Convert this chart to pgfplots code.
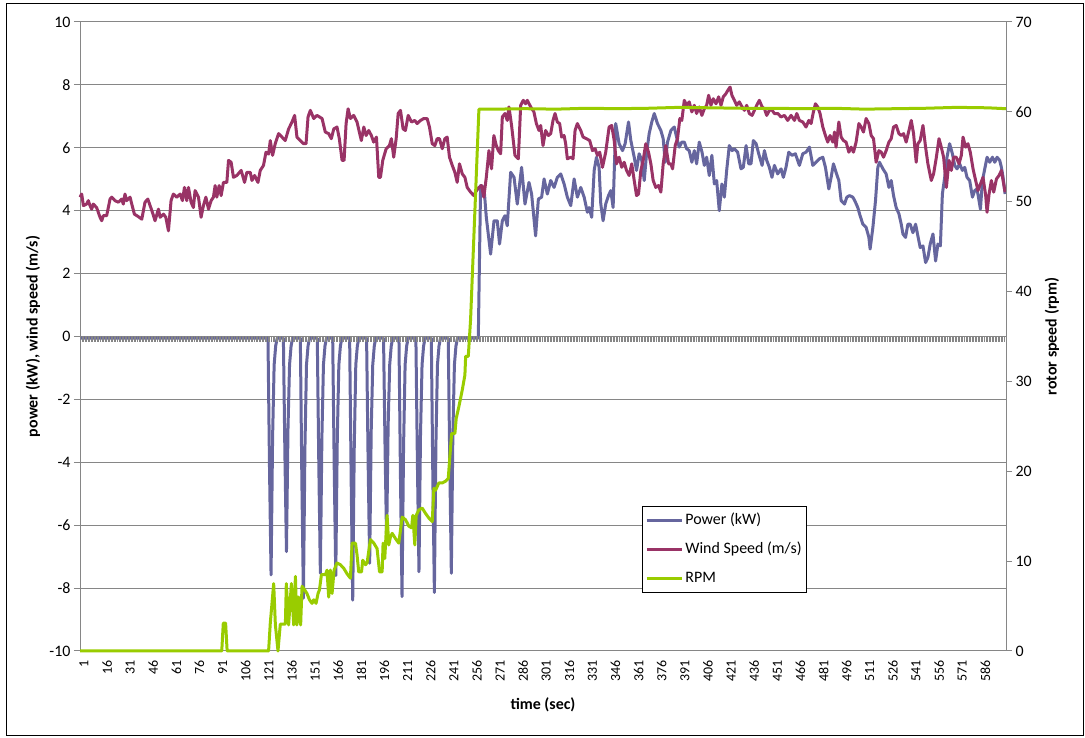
\documentclass[border=0pt]{standalone}
\usepackage{fontspec}
\setmainfont{Carlito}
\usepackage{pgfplots}
\usepackage{pgfplotstable}
\pgfplotsset{compat=1.18}

\definecolor{powc}{RGB}{102,102,158}
\definecolor{windc}{RGB}{153,51,102}
\definecolor{rpmc}{RGB}{153,204,0}
\definecolor{gridc}{RGB}{134,134,134}

% power (kW)
\pgfplotstableread{
t v
1 -0.05
123 -0.05
124 -4.2
125 -7.58
126 -3.2
127 -0.9
128 -0.3
129 -0.05
133 -0.05
134 -3.8
135 -6.84
136 -2.9
137 -0.9
138 -0.3
139 -0.05
144 -0.05
145 -4.6
146 -8.32
147 -3.5
148 -0.9
149 -0.3
150 -0.05
155 -0.05
156 -4.1
157 -7.53
158 -3.2
159 -0.9
160 -0.3
161 -0.05
165 -0.05
166 -4.2
167 -7.6
168 -3.2
169 -0.9
170 -0.3
171 -0.05
176 -0.05
177 -4.6
178 -8.38
179 -3.5
180 -0.9
181 -0.3
182 -0.05
187 -0.05
188 -4.0
189 -7.21
190 -3.0
191 -0.9
192 -0.3
193 -0.05
198 -0.05
199 -3.6
200 -6.5
201 -2.8
202 -0.9
203 -0.3
204 -0.05
208 -0.05
209 -4.5
210 -8.27
211 -3.5
212 -0.9
213 -0.3
214 -0.05
219 -0.05
220 -4.1
221 -7.48
222 -3.1
223 -0.9
224 -0.3
225 -0.05
229 -0.05
230 -4.5
231 -8.14
232 -3.4
233 -0.9
234 -0.3
235 -0.05
240 -0.05
241 -4.1
242 -7.53
243 -3.1
244 -0.9
245 -0.3
246 -0.05
259.5 -0.05
261 4.8
263.2 4.74
264.7 3.79
267.5 2.62
269.7 3.68
271.8 3.68
273.3 2.94
275.1 3.68
276.8 3.84
278.3 3.52
280.5 5.22
282.7 5.06
284.8 4.21
287.6 5.38
289.8 4.21
292.4 4.9
294.1 4.53
296.7 3.2
298.5 4.37
300.6 4.43
302.2 5.01
304.3 4.53
306.5 4.96
308.7 4.74
310.8 5.06
313 5.17
315.2 4.85
317.3 4.43
319.5 4.16
321.7 5.01
323.8 4.43
326 4.74
328.2 4.43
330.3 3.95
331.4 4.1
333.1 3.79
334.7 5.28
336.2 5.7
337.9 5.38
339 4.21
340.5 3.68
342.2 4.21
344 4.48
345.5 4.64
347 4.1
348.7 6.77
350.9 6.13
353.1 5.91
354.8 6.13
357 6.82
358.5 6.23
360.7 5.7
362.2 5.28
363.9 5.81
365.6 5.6
367.2 4.96
368.7 5.81
370.4 6.45
372.1 6.82
373.7 7.09
375.8 6.77
378 6.55
379.5 6.29
380.8 5.54
382.3 6.18
384.5 6.55
386.7 6.66
388.2 6.34
389.9 6.02
391.6 6.18
393.2 6.18
394.7 5.97
396.4 5.91
398.1 5.54
399.7 5.91
401.2 5.49
402.9 6.18
404.7 5.86
406.2 5.44
407.7 5.7
409.4 5.12
411.1 5.76
412.7 4.85
414.2 4.96
415.9 4.0
417.6 4.85
419.2 4.43
420.7 5.28
422.4 6.07
424.2 5.91
425.7 5.97
427.8 5.86
430 5.33
431.5 5.38
433.3 6.07
435 5.49
436.5 5.49
438 6.23
439.8 6.13
441.5 5.81
443.7 5.44
445.2 5.91
446.7 5.6
448.4 5.38
450.1 5.06
451.7 5.44
453.8 5.17
456 5.33
457.5 5.06
459.2 5.38
461 5.86
463.1 5.76
465.3 5.81
467.9 5.44
470.1 5.81
472.2 5.86
474.4 6.02
476.6 5.44
478.7 5.54
480.9 5.65
483.1 5.7
484.8 5.38
487 4.69
488.5 5.06
490 5.49
491.7 5.22
493.5 4.96
495 4.32
497.2 4.21
498.7 4.43
500.4 4.48
502.6 4.43
504.3 4.27
505.8 4.1
507.3 3.84
509.1 3.57
511.2 3.47
513 3.15
513.8 2.78
515.6 3.47
517.3 4.32
518.8 5.38
519.9 5.54
522.1 5.33
524.2 5.17
526 4.74
527.5 4.96
529 4.48
530.7 4.1
532.5 3.9
534 3.57
535.1 3.26
536.8 3.15
538.3 3.57
539.8 3.57
541.6 3.3
543.3 3.57
544.8 3.2
546.3 2.83
548.1 2.88
549.8 2.35
551.3 2.51
552.8 2.94
554.6 3.26
556.3 2.4
557.8 2.94
559.4 2.88
560.7 4.53
562.2 5.06
563.7 5.7
565.4 6.13
567.2 5.81
568.7 5.44
570.2 5.33
571.9 5.49
573.7 5.28
575.2 5.38
576.7 5.06
578.4 4.96
580.2 4.43
581.7 4.64
583.2 4.69
585.4 4.05
586.7 4.96
588.2 5.33
589.7 5.7
591.4 5.54
593.2 5.7
594.7 5.54
596.2 5.7
597.9 5.6
599 5.38
600.1 5.06
601.4 4.53
}\power

% wind speed (m/s)
\pgfplotstableread{
t v
1 4.43
2.1 4.53
3.2 4.16
5.3 4.21
6.4 4.32
7.5 4.16
8.6 4.05
9.6 4.21
11.8 4.1
14 3.79
15.1 3.68
16.1 3.84
18.3 3.84
20.5 4.37
21.6 4.43
23.7 4.32
25.9 4.27
28.1 4.37
29.1 4.21
30.2 4.53
31.3 4.32
33.5 4.43
34.6 4.21
36.3 3.89
38.9 3.81
41.1 3.73
43.2 4.27
45 4.37
46.5 4.16
48 3.95
49.7 3.68
51.9 4.05
53 3.79
55.2 3.89
56.7 3.79
58.4 3.36
60.1 4.32
61.6 4.53
63.8 4.43
66 4.53
67.5 4.32
68.8 4.74
70.3 4.32
71.4 4.74
73.1 4.27
74.6 4.1
75.7 4.64
77.9 4.43
79.6 3.79
81.1 4.16
82.7 4.43
84.4 4.05
86.1 4.32
87.6 4.43
88.7 4.8
89.8 4.43
91.3 4.8
92.6 4.48
94.1 4.9
96.3 4.9
97.4 5.6
99.1 5.54
100.6 5.06
102.8 5.12
105.6 5.28
107.8 4.9
109.3 5.22
111.5 5.22
112.6 4.96
114.3 5.12
116.5 4.9
118 5.28
120.1 5.44
121.7 5.86
123.4 5.8
124.5 6.23
126 5.76
127.7 6.13
129.9 6.45
132.1 6.34
134.2 6.23
136.4 6.6
138.6 6.82
140.3 7.03
141.8 6.34
144 6.23
146.1 6.13
147.7 6.13
149 6.98
150.5 7.19
152.7 6.93
154.8 7.03
158.1 6.93
160.2 6.5
162.4 6.45
164.1 6.29
165.7 6.6
167.8 6.66
169.3 6.29
171.1 5.6
172.4 5.6
173.7 6.77
175 7.24
176.5 6.93
178.6 7.03
180.8 6.82
182.3 6.5
183.6 6.23
185.2 6.66
186.7 6.39
188.4 6.55
190.1 6.39
191.6 6.18
193.4 6.34
194.9 5.06
196 5.06
197.5 5.6
199.7 5.97
201.8 6.07
203.1 6.29
204.6 5.7
206.2 6.29
207.5 7.09
209 7.19
210.7 6.6
212.2 6.55
214 7.03
216.1 6.82
218.3 6.87
219.8 6.77
222 6.87
224.1 6.93
226.3 6.93
227.8 6.66
229.6 6.13
231.3 6.07
232.8 6.29
234.3 6.29
236.1 5.97
237.8 6.29
239.3 6.34
240.8 5.7
242.6 5.44
244.3 5.22
245.8 4.9
247.3 5.49
249.1 5.17
250.8 5.06
252.3 4.74
254.5 4.59
256.6 4.48
257.7 4.59
259.9 4.74
261.6 4.8
263.1 4.43
264.7 5.06
266.4 5.91
268.1 5.33
269.6 6.39
271.2 6.07
272.5 5.91
274 5.81
275.1 6.98
276.8 7.09
278.3 6.87
279.4 7.3
281.1 6.71
283.3 5.76
285.5 5.65
287 7.35
288.7 7.51
290.2 7.4
291.3 7.51
293.5 7.3
295.6 7.14
297.2 6.77
298.9 6.55
300 6.71
301.5 6.07
303.2 6.55
305 6.39
306.5 6.45
308 6.87
309.3 7.09
310.8 6.82
312.3 6.77
313.6 6.34
315.2 6.39
316.2 6.13
317.3 5.65
319.5 5.7
321 5.65
322.3 6.55
323.8 6.77
326 6.55
327.5 6.34
329.7 6.29
331.8 6.23
333.6 5.91
335.3 5.97
336.8 5.76
338.3 5.86
340.1 5.38
342.2 5.86
344.4 6.66
346.1 6.71
347.7 6.23
349.2 5.49
350.9 5.7
352.6 5.38
354.2 5.54
355.7 5.28
357.4 5.12
359.1 5.49
360.7 4.96
362.2 4.48
363.5 4.53
365 5.28
366.5 5.6
368.2 6.13
370 5.86
371.5 5.49
373 4.96
374.7 4.74
376.5 4.8
378 4.59
379.5 5.49
381.2 6.07
383 5.49
384.5 5.49
385.6 5.33
387.3 6.07
388.8 6.29
390.3 6.93
391.6 6.87
393.2 7.51
394.7 7.35
396.4 7.46
398.1 7.14
399.7 7.35
401.2 7.09
402.9 7.3
404.6 7.03
406.2 7.24
407.7 7.35
409 7.67
410.5 7.35
412 7.56
413.8 7.4
415.5 7.62
417 7.35
418.5 7.62
420.2 7.72
421.5 7.83
422.9 7.93
424.1 7.67
425.7 7.51
427.2 7.35
428.9 7.46
430.7 7.3
432.2 7.19
433.7 7.35
435.4 7.09
437.2 7.03
438.7 7.19
440.2 7.35
441.9 7.51
443.7 7.3
445.2 7.24
446.7 7.03
448.4 7.19
450.1 7.2
451.7 7.09
453.8 7.09
456 6.98
458.2 7.03
460.3 6.87
462.5 7.03
464.7 6.87
466.2 7.09
467.9 6.87
470.1 6.82
472.2 6.66
474 6.87
475.5 6.77
477 7.14
478.3 7.4
479.8 7.3
481.3 7.09
483.1 6.66
484.8 6.39
486.3 6.18
487.8 6.39
489.6 6.18
490.7 6.5
491.7 6.02
493.5 6.82
495 6.34
496.5 6.23
498.2 6.18
500 5.86
501.5 6.02
503 5.86
504.7 6.18
506.5 6.77
508 6.66
509.5 6.5
511.2 6.93
513 6.77
514.5 6.39
516 6.29
517.7 5.54
519.5 5.91
521 5.86
522.5 5.7
524.2 5.91
526 6.18
527.5 6.29
529 6.66
530.7 6.71
532.5 6.45
534 6.39
535.5 6.45
537.2 6.18
539 6.55
540.5 6.87
542 6.45
543.7 5.54
544.8 6.13
546.3 6.23
548.1 6.71
549.8 6.02
551.3 5.49
553.5 4.96
555 5.17
556.8 5.7
558.5 6.29
560 6.02
561.5 5.7
563.3 4.74
565 5.6
566.5 5.28
568 5.7
569.7 5.7
571.5 5.49
573 5.76
574.1 6.34
575.8 6.02
577.3 6.13
578.8 5.86
580.6 5.33
582.3 4.96
583.8 4.64
585.4 4.85
587.1 5.06
588.8 4.48
589.7 3.95
591 4.53
592.5 4.96
594 4.59
595.8 5.01
597.5 5.12
599 5.28
600.1 4.96
601.4 4.59
}\wind

% rotor speed (rpm)
\pgfplotstableread{
t r
1 0
93 0
94 3.1
95.5 3.1
96.5 0
123.4 0
124.5 3.1
126.7 7.5
127.8 2.9
129.5 0
131 3.0
134.3 3.0
134.9 7.5
136.4 2.9
138.2 7.5
139.7 2.9
140.8 8.3
141.8 2.9
142.9 6.0
144.2 2.9
145.1 7.2
146.8 6.8
148.3 6.4
149.9 5.7
151.6 5.3
152.7 5.7
154.2 5.3
155.5 6.4
156.4 6.8
157.7 8.5
160.3 8.5
161.3 9.0
162.4 6.0
163.5 9.0
164.6 6.4
165.9 9.0
167.8 9.8
170 9.6
172.2 9.2
174.3 8.6
176.5 8.1
177.6 12.0
179.8 12.0
180.8 10.7
181.9 8.8
183.7 8.8
184.5 10.1
186.3 9.6
187.3 9.8
189.5 12.4
191.7 12.0
193.8 11.4
195.4 8.8
197.1 8.8
197.7 12.0
198.8 10.3
200.3 15.1
201.4 11.8
202.5 12.7
203.6 13.1
205.8 12.5
207.9 12.0
210.1 14.9
212.3 14.6
214.4 13.9
216.2 13.7
217 15.1
218.3 11.8
219.2 15.1
220.9 15.7
223.1 15.9
225.3 15.3
227.4 14.8
229.6 14.4
230.7 18.1
231.8 17.9
233.9 18.7
236.1 18.7
238.3 18.9
240 19.2
240.9 21.3
242.2 24.2
244.3 24.2
245.2 25.9
246.9 27.2
249.1 29.05
250.8 30.7
251.3 32.8
253 32.8
254.5 36.9
259.9 60.3
270 60.3
290 60.35
310 60.3
330 60.4
350 60.35
370 60.4
390 60.5
410 60.45
430 60.4
450 60.4
470 60.35
490 60.4
510 60.3
530 60.35
550 60.4
570 60.5
590 60.45
602 60.35
}\rpm

\begin{document}
\begin{tikzpicture}[x=1bp,y=1bp]
\useasboundingbox (0,0) rectangle (1085,738);
\draw[black, line width=0.8bp] (6,3) rectangle (1083,735);

\pgfplotsset{
  base/.style={
    scale only axis, width=926bp, height=629bp,
    at={(80bp,87bp)}, anchor=south west,
    xmin=1, xmax=602,
    /pgf/number format/assume math mode=true,
    tick label style={font=\fontsize{16}{18}\selectfont},
    label style={font=\bfseries\fontsize{16}{18}\selectfont},
    axis line style={gridc, line width=1bp},
    tick align=outside, major tick length=6bp,
    every tick/.style={gridc, line width=1bp},
    clip=false,
  },
  pline/.style={line width=3bp, line join=round, no markers},
}

\begin{axis}[base,
  axis y line*=left, axis x line*=bottom,
  ymin=-10, ymax=10, ytick={-10,-8,...,10},
  ymajorgrids, grid style={gridc, line width=1bp},
  xtick={1,16,...,586},
  x tick style={draw=none},
  xticklabel style={rotate=90, anchor=east, yshift=-4bp,
    font=\fontsize{14}{16}\selectfont},
  ylabel={power (kW), wind speed (m/s)},
  ylabel style={at={(axis description cs:-0.0508,0.5)}, anchor=center},
  xlabel={time (sec)},
  xlabel style={at={(axis description cs:0.5,-0.0859)}, anchor=center},
]
\addplot[pline, powc] table[x=t, y=v] {\power};
\addplot[pline, windc] table[x=t, y=v] {\wind};
\draw[gridc, line width=6bp, dash pattern=on 0.6bp off 0.94bp]
  ([yshift=-3bp]axis cs:1,0) -- ([yshift=-3bp]axis cs:602,0);
\end{axis}

\begin{axis}[base,
  axis y line*=right, axis x line=none,
  ymin=0, ymax=70, ytick={0,10,...,70},
  ylabel={rotor speed (rpm)},
  ylabel style={at={(axis description cs:1.0497,0.5)}, anchor=center},
  legend cell align=left,
  legend style={at={(axis description cs:0.6069,0.2305)}, anchor=north west,
    draw=black, line width=0.8bp, inner xsep=3bp, inner ysep=3.5bp, row sep=8bp,
    font=\fontsize{16}{18}\selectfont,
    nodes={text height=12bp, text depth=4bp, inner ysep=2.5bp, inner xsep=2bp}},
  legend image code/.code={\draw[#1, line width=3bp] (0bp,0bp) -- (35bp,0bp);},
]
\addlegendimage{powc}
\addlegendentry{Power (kW)}
\addlegendimage{windc}
\addlegendentry{Wind Speed (m/s)}
\addplot[pline, rpmc] table[x=t, y=r] {\rpm};
\addlegendentry{RPM}
\end{axis}
\end{tikzpicture}
\end{document}
